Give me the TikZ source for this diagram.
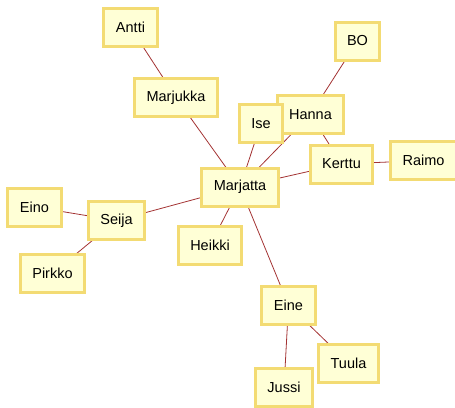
\documentclass[tikz,border=0pt]{standalone}
\usepackage{fontspec}
\setmainfont{Liberation Sans}
\usepackage{tikz}
\usetikzlibrary{backgrounds}

\definecolor{boxfill}{HTML}{FFFFD6}
\definecolor{boxline}{HTML}{F3DB73}
\definecolor{linkred}{HTML}{A33333}

\begin{document}
\begin{tikzpicture}[
  x=1pt, y=-1pt,
  person/.style={rectangle, draw=boxline, fill=boxfill, line width=3pt, inner xsep=12pt, minimum height=38pt, font=\fontsize{14.5}{16}\selectfont},
  link/.style={draw=linkred, line width=0.8pt},
]
  \useasboundingbox (0,0) rectangle (455,407);

  \node[person] (antti) at (130.5,27.5) {Antti};
  \node[person] (bo) at (357.5,41) {BO};
  \node[person] (marjukka) at (176,97.5) {Marjukka};
  \node[person] (hanna) at (310.5,114.5) {Hanna};
  \node[person] (ise) at (261,123.5) {Ise};
  \node[person] (kerttu) at (341.5,164) {Kerttu};
  \node[person] (raimo) at (423.5,160.5) {Raimo};
  \node[person] (marjatta) at (240,187) {Marjatta};
  \node[person] (eino) at (34.5,207) {Eino};
  \node[person] (seija) at (116.5,220.5) {Seija};
  \node[person] (pirkko) at (52.5,273.5) {Pirkko};
  \node[person] (heikki) at (210,245.5) {Heikki};
  \node[person] (eine) at (288.5,305) {Eine};
  \node[person] (tuula) at (348.5,363) {Tuula};
  \node[person] (jussi) at (284,387.5) {Jussi};

  \begin{scope}[on background layer]
    \draw[link] (antti.center) -- (marjukka.center);
    \draw[link] (marjukka.center) -- (marjatta.center);
    \draw[link] (ise.center) -- (marjatta.center);
    \draw[link] (hanna.center) -- (marjatta.center);
    \draw[link] (bo.center) -- (hanna.center);
    \draw[link] (hanna.center) -- (kerttu.center);
    \draw[link] (kerttu.center) -- (marjatta.center);
    \draw[link] (kerttu.center) -- (raimo.center);
    \draw[link] (marjatta.center) -- (seija.center);
    \draw[link] (seija.center) -- (eino.center);
    \draw[link] (seija.center) -- (pirkko.center);
    \draw[link] (marjatta.center) -- (heikki.center);
    \draw[link] (marjatta.center) -- (eine.center);
    \draw[link] (eine.center) -- (jussi.center);
    \draw[link] (eine.center) -- (tuula.center);
  \end{scope}
\end{tikzpicture}
\end{document}
